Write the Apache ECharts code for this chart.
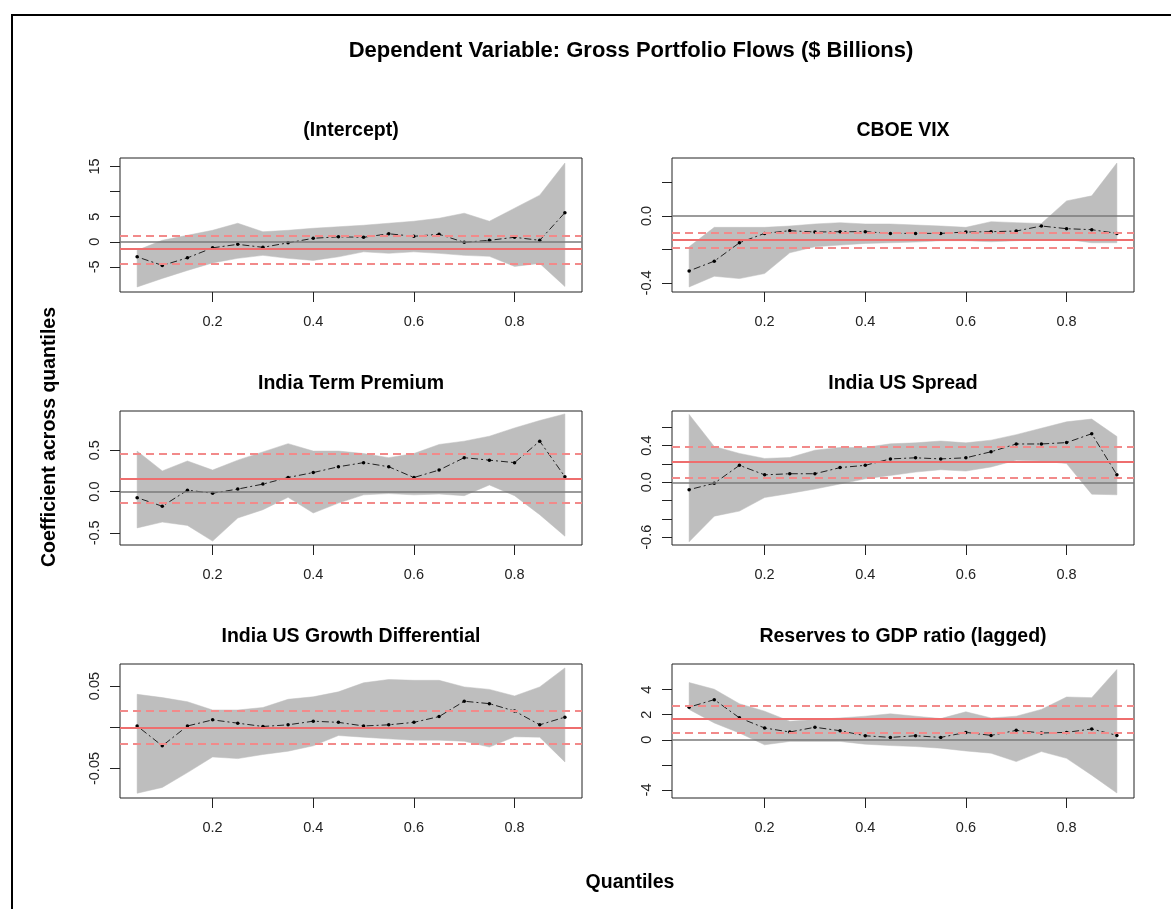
<!DOCTYPE html>
<html>
<head>
<meta charset="utf-8">
<script src="https://cdn.jsdelivr.net/npm/echarts@6/dist/echarts.min.js"></script>
<style>
html, body { margin: 0; padding: 0; background: #fff; }
#main { width: 1171px; height: 909px; }
</style>
</head>
<body>
<div id="main"></div>
<script>
// quantiles on the x axis
var taus = [0.05, 0.10, 0.15, 0.20, 0.25, 0.30, 0.35, 0.40, 0.45, 0.50, 0.55, 0.60, 0.65, 0.70, 0.75, 0.80, 0.85, 0.90];
var xTicks = [0.2, 0.4, 0.6, 0.8];

var panelTitles = ['(Intercept)', 'CBOE VIX', 'India Term Premium', 'India US Spread',
    'India US Growth Differential', 'Reserves to GDP ratio (lagged)'];

// (Intercept)
var interceptEst = [-3.0, -4.7, -3.2, -1.2, -0.5, -1.1, -0.2, 0.7, 1.0, 0.9, 1.6, 1.1, 1.5, -0.1, 0.3, 0.9, 0.3, 5.8];
var interceptLo = [-9.0, -7.3, -5.7, -4.2, -3.3, -2.7, -3.3, -3.7, -3.0, -2.0, -2.3, -2.0, -2.3, -2.7, -2.9, -4.9, -4.3, -8.9];
var interceptHi = [-1.7, 0.3, 1.3, 2.3, 3.7, 2.0, 2.3, 2.7, 3.0, 3.3, 3.7, 4.1, 4.7, 5.7, 4.1, 6.7, 9.3, 15.7];
var interceptOls = [-1.4, -4.3, 1.3];
var interceptTicks = [-5, 0, 5, 10, 15];
var interceptLabels = [-5, 0, 5, 15];

// CBOE VIX
var vixEst = [-0.328, -0.27, -0.16, -0.104, -0.088, -0.096, -0.094, -0.094, -0.104, -0.104, -0.104, -0.096, -0.094, -0.09, -0.06, -0.076, -0.082, -0.104];
var vixLo = [-0.424, -0.36, -0.374, -0.344, -0.22, -0.184, -0.174, -0.164, -0.16, -0.156, -0.148, -0.148, -0.154, -0.148, -0.14, -0.14, -0.16, -0.16];
var vixHi = [-0.184, -0.068, -0.068, -0.068, -0.06, -0.048, -0.04, -0.048, -0.048, -0.054, -0.06, -0.068, -0.034, -0.04, -0.045, 0.09, 0.12, 0.316];
var vixOls = [-0.144, -0.188, -0.096];
var vixTicks = [-0.4, -0.2, 0, 0.2];
var vixLabels = [-0.4, 0];

// India Term Premium
var termEst = [-0.074, -0.178, 0.017, -0.02, 0.03, 0.09, 0.17, 0.23, 0.30, 0.35, 0.30, 0.17, 0.26, 0.41, 0.38, 0.35, 0.61, 0.18];
var termLo = [-0.44, -0.37, -0.41, -0.60, -0.32, -0.22, -0.07, -0.26, -0.14, -0.04, -0.025, -0.04, -0.03, -0.05, 0.08, -0.05, -0.28, -0.54];
var termHi = [0.49, 0.25, 0.37, 0.26, 0.38, 0.48, 0.58, 0.49, 0.49, 0.46, 0.41, 0.46, 0.57, 0.61, 0.67, 0.77, 0.86, 0.94];
var termOls = [0.16, -0.136, 0.46];
var termTicks = [-0.5, 0, 0.5];
var termLabels = [-0.5, 0, 0.5];

// India US Spread
var spreadEst = [-0.081, -0.011, 0.185, 0.081, 0.093, 0.093, 0.16, 0.185, 0.255, 0.267, 0.255, 0.267, 0.333, 0.418, 0.418, 0.433, 0.53, 0.081];
var spreadLo = [-0.65, -0.37, -0.315, -0.167, -0.122, -0.074, -0.019, 0.037, 0.074, 0.111, 0.137, 0.122, 0.167, 0.24, 0.233, 0.204, -0.13, -0.137];
var spreadHi = [0.74, 0.39, 0.315, 0.26, 0.27, 0.35, 0.38, 0.38, 0.42, 0.43, 0.45, 0.43, 0.46, 0.52, 0.59, 0.66, 0.69, 0.50];
var spreadOls = [0.222, 0.048, 0.389];
var spreadTicks = [-0.6, -0.4, -0.2, 0, 0.2, 0.4, 0.6];
var spreadLabels = [-0.6, 0, 0.4];

// India US Growth Differential
var growthEst = [0.0016, -0.0225, 0.0016, 0.009, 0.005, 0.001, 0.003, 0.0074, 0.006, 0.0016, 0.003, 0.006, 0.013, 0.0316, 0.0287, 0.0197, 0.003, 0.0123];
var growthLo = [-0.080, -0.073, -0.055, -0.036, -0.038, -0.033, -0.029, -0.0225, -0.010, -0.012, -0.014, -0.0156, -0.0156, -0.017, -0.024, -0.0115, -0.012, -0.042];
var growthHi = [0.040, 0.036, 0.031, 0.021, 0.021, 0.024, 0.034, 0.037, 0.043, 0.054, 0.058, 0.057, 0.057, 0.049, 0.046, 0.038, 0.049, 0.072];
var growthOls = [0.0003, -0.0205, 0.0213];
var growthTicks = [-0.05, 0, 0.05];
var growthLabels = [-0.05, 0.05];

// Reserves to GDP ratio (lagged)
var reservesEst = [2.6, 3.2, 1.75, 0.94, 0.62, 1.0, 0.72, 0.32, 0.19, 0.32, 0.19, 0.59, 0.35, 0.75, 0.54, 0.59, 0.86, 0.35];
var reservesLo = [2.42, 1.34, 0.54, -0.40, -0.13, -0.13, -0.13, -0.35, -0.46, -0.54, -0.67, -0.89, -1.07, -1.74, -0.94, -1.48, -2.82, -4.24];
var reservesHi = [4.56, 4.03, 2.87, 2.28, 1.48, 1.61, 1.74, 1.88, 2.07, 1.88, 1.69, 2.23, 1.74, 1.88, 2.42, 3.41, 3.36, 5.6];
var reservesOls = [1.69, 0.54, 2.68];
var reservesTicks = [-4, -2, 0, 2, 4];
var reservesLabels = [-4, 0, 2, 4];

var FONT = '"Liberation Sans", Arial, sans-serif';

var panels = [
    { est: interceptEst, lo: interceptLo, hi: interceptHi, ols: interceptOls, yMin: -10.0, yMax: 16.7, ticks: interceptTicks, labels: interceptLabels, digits: 0 },
    { est: vixEst, lo: vixLo, hi: vixHi, ols: vixOls, yMin: -0.454, yMax: 0.346, ticks: vixTicks, labels: vixLabels, digits: 1 },
    { est: termEst, lo: termLo, hi: termHi, ols: termOls, yMin: -0.647, yMax: 0.975, ticks: termTicks, labels: termLabels, digits: 1 },
    { est: spreadEst, lo: spreadLo, hi: spreadHi, ols: spreadOls, yMin: -0.685, yMax: 0.778, ticks: spreadTicks, labels: spreadLabels, digits: 1 },
    { est: growthEst, lo: growthLo, hi: growthHi, ols: growthOls, yMin: -0.0858, yMax: 0.0768, ticks: growthTicks, labels: growthLabels, digits: 2 },
    { est: reservesEst, lo: reservesLo, hi: reservesHi, ols: reservesOls, yMin: -4.64, yMax: 6.04, ticks: reservesTicks, labels: reservesLabels, digits: 0 }
];

var colLeft = [120, 672];
var rowTop = [158, 411, 664];
var boxW = 462, boxH = 134;

var grids = [], xAxes = [], yAxes = [], series = [];

function boldText(str, x, y, size, rot) {
    return {
        type: 'text', x: x, y: y, rotation: rot || 0, silent: true,
        style: { text: str, fontFamily: FONT, fontSize: size, fontWeight: 'bold', fill: '#000', align: 'center', verticalAlign: 'middle' }
    };
}

var texts = [
    { type: 'rect', shape: { x: 12, y: 15, width: 1300, height: 1000 }, style: { fill: 'none', stroke: '#000', lineWidth: 2 }, silent: true },
    boldText('Dependent Variable: Gross Portfolio Flows ($ Billions)', 631, 51, 22),
    boldText('Coefficient across quantiles', 50, 437, 19.5, Math.PI / 2),
    boldText('Quantiles', 630, 883, 19.5)
];

// confidence band drawn as one polygon: lower edge forward, upper edge back
function bandRenderer(p) {
    return function (params, api) {
        if (params.dataIndex !== 0) return null;
        var pts = [];
        for (var j = 0; j < taus.length; j++) pts.push(api.coord([taus[j], p.lo[j]]));
        for (var k = taus.length - 1; k >= 0; k--) pts.push(api.coord([taus[k], p.hi[k]]));
        return { type: 'polygon', shape: { points: pts }, style: { fill: '#bebebe', stroke: '#bebebe', lineWidth: 0.5 } };
    };
}

panels.forEach(function (p, i) {
    var col = i % 2, row = Math.floor(i / 2);
    grids.push({
        left: colLeft[col], top: rowTop[row], width: boxW, height: boxH,
        show: true, borderColor: '#222', borderWidth: 1, backgroundColor: 'transparent'
    });
    texts.push(boldText(panelTitles[i], colLeft[col] + boxW / 2, rowTop[row] - 27, 19.5));
    xAxes.push({
        type: 'value', gridIndex: i, min: 0.016, max: 0.934,
        axisLine: { show: false, onZero: false },
        splitLine: { show: false },
        axisTick: { show: true, inside: false, length: 10, customValues: xTicks, lineStyle: { color: '#222' } },
        axisLabel: {
            customValues: xTicks, margin: 22, color: '#222', fontFamily: FONT, fontSize: 14.5,
            formatter: function (v) { return v.toFixed(1); }
        }
    });
    yAxes.push({
        type: 'value', gridIndex: i, min: p.yMin, max: p.yMax,
        axisLine: { show: false, onZero: false },
        splitLine: { show: false },
        axisTick: { show: true, inside: false, length: 10, customValues: p.ticks, lineStyle: { color: '#222' } },
        axisLabel: {
            customValues: p.labels, margin: 18, rotate: 90, color: '#222', fontFamily: FONT, fontSize: 14.5,
            formatter: function (v) { return Number(v).toFixed(p.digits); }
        }
    });

    var bandData = taus.map(function (t, j) { return [t, p.lo[j], p.hi[j]]; });
    var estData = taus.map(function (t, j) { return [t, p.est[j]]; });

    series.push({
        type: 'custom', xAxisIndex: i, yAxisIndex: i, data: bandData,
        encode: { x: 0, y: [1, 2] }, renderItem: bandRenderer(p), silent: true, z: 1
    });
    series.push({
        type: 'line', xAxisIndex: i, yAxisIndex: i, data: estData,
        symbol: 'none', silent: true, lineStyle: { opacity: 0 }, z: 2,
        markLine: {
            silent: true, symbol: ['none', 'none'], label: { show: false }, animation: false,
            data: [
                { yAxis: 0, lineStyle: { color: '#7a7a7a', type: 'solid', width: 1.5 } }
            ]
        }
    });
    series.push({
        type: 'line', xAxisIndex: i, yAxisIndex: i, data: estData,
        symbol: 'circle', symbolSize: 3.5, silent: true,
        itemStyle: { color: '#000' },
        lineStyle: { color: '#222', width: 1, type: [2, 3, 7, 3] }, z: 3
    });
    series.push({
        type: 'line', xAxisIndex: i, yAxisIndex: i, data: estData,
        symbol: 'none', silent: true, lineStyle: { opacity: 0 }, z: 4,
        markLine: {
            silent: true, symbol: ['none', 'none'], label: { show: false }, animation: false,
            data: [
                { yAxis: p.ols[0], lineStyle: { color: '#ee6e6e', type: 'solid', width: 2 } },
                { yAxis: p.ols[1], lineStyle: { color: '#f28a8a', type: [8, 5], width: 2 } },
                { yAxis: p.ols[2], lineStyle: { color: '#f28a8a', type: [8, 5], width: 2 } }
            ]
        }
    });
});

var chart = echarts.init(document.getElementById('main'));
chart.setOption({
    animation: false,
    backgroundColor: '#fff',
    grid: grids,
    xAxis: xAxes,
    yAxis: yAxes,
    series: series,
    graphic: texts
});
</script>
</body>
</html>
